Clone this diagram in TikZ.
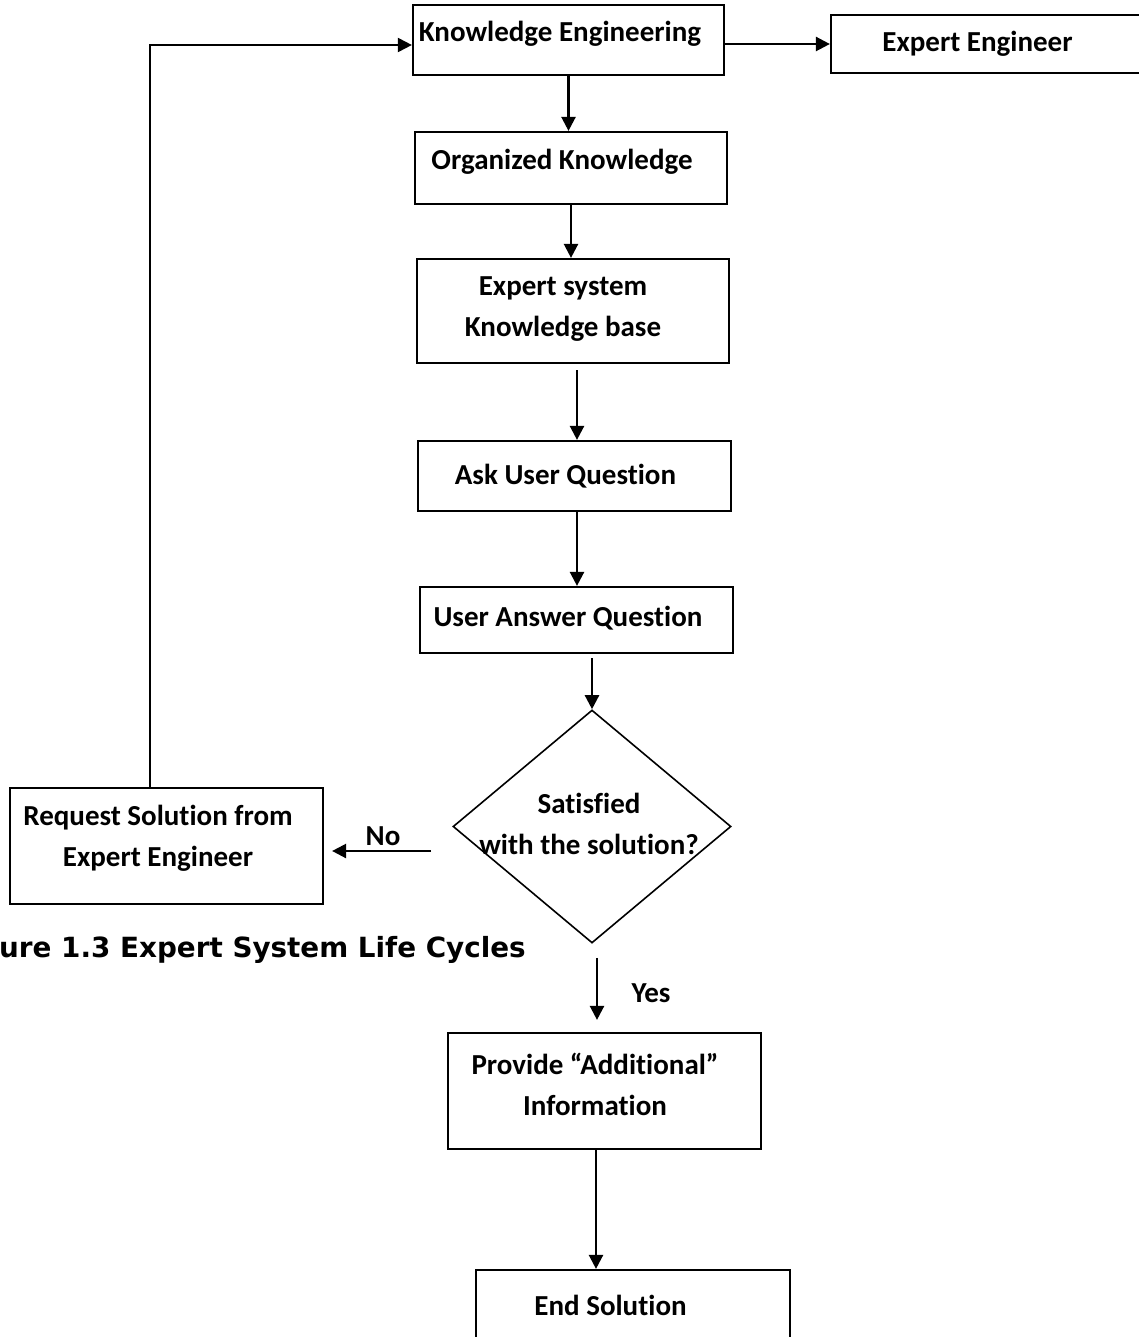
\documentclass[tikz,border=0pt]{standalone}
\usepackage{fontspec}
\setmainfont{Carlito}[RawFeature={-liga;-clig;-calt;-rlig}]
\newfontfamily\capfont{DejaVu Sans}
\usetikzlibrary{arrows.meta,calc,shapes.geometric}
\begin{document}
\begin{tikzpicture}[x=1pt,y=-1pt,
  box/.style={draw,line width=2.2pt,inner sep=0pt},
  txt/.style={font=\fontsize{29}{41}\selectfont\bfseries,align=center,inner sep=0pt},
  arr/.style={line width=2.4pt,-{Triangle[length=14pt,width=14pt]}}]
\useasboundingbox (0,0) rectangle (1139,1337);
% boxes
\node[box,minimum width=311pt,minimum height=70pt] (KE) at (568.5,40) {};
\node[box,minimum width=319pt,minimum height=58pt] (EE) at (990.5,44) {};
\node[box,minimum width=312pt,minimum height=72pt] (OK) at (571,168) {};
\node[box,minimum width=312pt,minimum height=104pt] (ESKB) at (573,311) {};
\node[box,minimum width=313pt,minimum height=70pt] (AUQ) at (574.5,476) {};
\node[box,minimum width=313pt,minimum height=66pt] (UAQ) at (576.5,620) {};
\node[draw,line width=1.6pt,diamond,inner sep=0pt,minimum width=278pt,minimum height=233pt] (dia) at (592,826.5) {};
\node[box,minimum width=313pt,minimum height=116pt] (RS) at (166.5,846) {};
\node[box,minimum width=313pt,minimum height=116pt] (PAI) at (604.5,1091) {};
\node[box,minimum width=314pt,minimum height=80pt] (ES) at (633,1310) {};
% texts
\node[txt] (KEt) at (560,34) {Knowledge Engineering};
\node[txt] (EEt) at (977.5,44) {Expert Engineer};
\node[txt] (OKt) at (562,162) {Organized Knowledge};
\node[txt] (ESKBt) at (563,309) {Expert system\\Knowledge base};
\node[txt] (AUQt) at (565.5,476) {Ask User Question};
\node[txt] (UAQt) at (568,618) {User Answer Question};
\node[txt] (diat) at (589,824) {Satisfied\\with the solution?};
\node[txt] (RSt) at (158,838) {Request Solution from\\Expert Engineer};
\node[txt] (PAIt) at (595,1084) {Provide “Additional”\\Information};
\node[txt] (ESt) at (610.5,1305) {End Solution};
\node[txt] (no) at (383,836) {No};
\node[txt] (yes) at (651,993) {Yes};
\node[anchor=east,inner sep=0pt,font=\capfont\bfseries\fontsize{27.8}{30}\selectfont] (cap) at (526,950) {ure 1.3 Expert System Life Cycles};
% connectors
\draw[arr] (KE.east |- EE.west) -- (EE.west);
\draw[arr] (KE.south) -- (KE.south |- OK.north);
\draw[arr] (OK.south) -- (OK.south |- ESKB.north);
\draw[arr] ([xshift=4pt,yshift=-6pt]ESKB.south) -- ([xshift=4pt]ESKB.south |- AUQ.north);
\draw[arr] ([xshift=2.5pt]AUQ.south) -- ([xshift=2.5pt]AUQ.south |- UAQ.north);
\draw[arr] ([yshift=-4pt]UAQ.south -| dia.north) -- (dia.north);
\coordinate (noS) at ($(dia.west)+(-21,24.5)$);
\draw[arr,shorten >=8pt] (noS) -- (noS -| RS.east);
\draw[line width=2pt,-{Triangle[length=14pt,width=14pt]}] ([xshift=-16.5pt]RS.north) |- ([yshift=-5pt]KE.west);
\draw[arr,shorten >=12pt] ([xshift=5pt,yshift=-14pt]dia.south) -- ([xshift=5pt]dia.south |- PAI.north);
\draw[arr] ([xshift=-8.5pt]PAI.south) -- ([xshift=-8.5pt]PAI.south |- ES.north);
\end{tikzpicture}
\end{document}
